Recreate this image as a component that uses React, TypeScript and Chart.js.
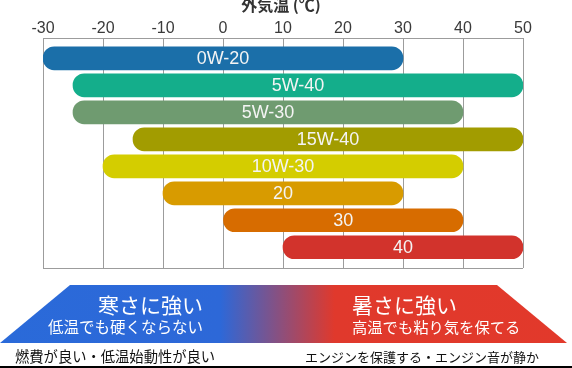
import React, { useEffect, useRef } from 'react';
import { Chart, registerables } from 'chart.js';

Chart.register(...registerables);

// ---- data ----
const grades = ['0W-20', '5W-40', '5W-30', '15W-40', '10W-30', '20', '30', '40'];
const lowTemps = [-30, -25, -25, -15, -20, -10, 0, 10];
const highTemps = [30, 50, 40, 50, 40, 30, 40, 50];
const barColors = ['#1b6fa9', '#14ae8b', '#6f9b70', '#a29c00', '#d4cd00', '#d89b00', '#d76c00', '#d2332c'];
const xTicks = [-30, -20, -10, 0, 10, 20, 30, 40, 50];
const axisTitle = '外気温 (℃)';
const coldTitle = '寒さに強い';
const coldSub = '低温でも硬くならない';
const hotTitle = '暑さに強い';
const hotSub = '高温でも粘り気を保てる';
const coldNote = '燃費が良い・低温始動性が良い';
const hotNote = 'エンジンを保護する・エンジン音が静か';

const latin = '"Liberation Sans", "Noto Sans CJK JP", sans-serif';
const jp = '"Noto Sans CJK JP", sans-serif';

const decorPlugin = {
  id: 'decor',
  beforeDatasetsDraw(chart: any) {
    const { ctx, chartArea } = chart;
    ctx.save();
    ctx.strokeStyle = '#9c9c9c';
    ctx.lineWidth = 1;
    ctx.beginPath();
    ctx.moveTo(chartArea.left, Math.round(chartArea.bottom) + 0.5);
    ctx.lineTo(chartArea.right, Math.round(chartArea.bottom) + 0.5);
    ctx.stroke();
    ctx.restore();
  },
  afterDatasetsDraw(chart: any) {
    const { ctx } = chart;
    const meta = chart.getDatasetMeta(0);
    ctx.save();
    ctx.fillStyle = '#f4f4f4';
    ctx.font = '18px ' + latin;
    ctx.textAlign = 'center';
    ctx.textBaseline = 'middle';
    meta.data.forEach((bar: any, i: number) => {
      const p = bar.getProps(['x', 'y', 'base'], true);
      ctx.fillText(grades[i], (p.x + p.base) / 2, p.y + 1);
    });
    ctx.restore();
  },
  afterDraw(chart: any) {
    const { ctx } = chart;
    ctx.save();
    // axis title
    ctx.fillStyle = '#333';
    ctx.font = 'bold 16px ' + jp;
    ctx.textAlign = 'center';
    ctx.textBaseline = 'middle';
    ctx.fillText(axisTitle, 281, 5);

    // gradient band
    const g = ctx.createLinearGradient(0, 0, 572, 0);
    g.addColorStop(0, '#2a6ad9');
    g.addColorStop(0.385, '#2d68d8');
    g.addColorStop(0.585, '#e0392c');
    g.addColorStop(1, '#e2392b');
    ctx.fillStyle = g;
    ctx.beginPath();
    ctx.moveTo(70, 285);
    ctx.lineTo(497, 285);
    ctx.lineTo(567, 343);
    ctx.lineTo(0, 343);
    ctx.closePath();
    ctx.fill();

    ctx.fillStyle = '#ffffff';
    ctx.textBaseline = 'middle';
    ctx.textAlign = 'right';
    ctx.font = '21px ' + jp;
    ctx.fillText(coldTitle, 203, 305);
    ctx.font = '15.5px ' + jp;
    ctx.fillText(coldSub, 203, 327);
    ctx.textAlign = 'left';
    ctx.font = '21px ' + jp;
    ctx.fillText(hotTitle, 352, 305);
    ctx.font = '15.3px ' + jp;
    ctx.fillText(hotSub, 352, 327);

    // notes
    ctx.fillStyle = '#111';
    ctx.font = '14.3px ' + jp;
    ctx.textAlign = 'left';
    ctx.fillText(coldNote, 15, 357);
    ctx.font = '13px ' + jp;
    ctx.fillText(hotNote, 305, 357);

    ctx.fillStyle = '#000';
    ctx.fillRect(0, 366, 572, 2);
    ctx.restore();
  },
};

export default function App() {
  const ref = useRef<HTMLCanvasElement | null>(null);
  useEffect(() => {
    if (!ref.current) return;
    const chart = new Chart(ref.current, {
      type: 'bar',
      data: {
        datasets: [
          {
            data: grades.map((_, i) => ({ x: [lowTemps[i], highTemps[i]], y: i })) as any,
            backgroundColor: barColors,
            borderRadius: 12,
            borderSkipped: false,
            barThickness: 23,
          },
        ],
      },
      options: {
        animation: false,
        responsive: false,
        indexAxis: 'y',
        layout: { padding: { left: 43, right: 49, top: 0, bottom: 100 } },
        plugins: { legend: { display: false }, tooltip: { enabled: false } },
        scales: {
          x: {
            type: 'linear',
            position: 'top',
            min: -30,
            max: 50,
            afterBuildTicks: (scale: any) => {
              scale.ticks = xTicks.map((v) => ({ value: v }));
            },
            afterFit: (scale: any) => {
              scale.height = 38;
            },
            grid: { color: '#9c9c9c', lineWidth: 1, drawTicks: false },
            border: { display: true, color: '#9c9c9c', width: 1 },
            ticks: {
              padding: 0,
              color: '#3a3a3a',
              font: { size: 16, family: latin },
              callback: (v: any) => String(v),
            },
          },
          y: {
            type: 'linear',
            reverse: true,
            offset: false,
            min: -0.752,
            max: 7.767,
            display: false,
            grid: { offset: false },
          },
        },
      },
      plugins: [decorPlugin],
    });
    return () => chart.destroy();
  }, []);
  return (
    <div style={{ position: 'fixed', left: 0, top: 0, width: 572, height: 368, background: '#fff' }}>
      <canvas ref={ref} width={572} height={368} style={{ display: 'block' }} />
    </div>
  );
}
